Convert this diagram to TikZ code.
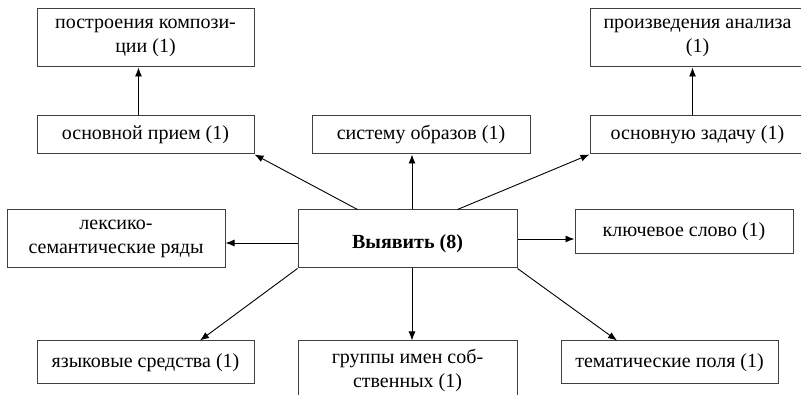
\documentclass[tikz,border=0pt]{standalone}
\usepackage{fontspec}
\setmainfont{Liberation Serif}
\usepackage{tikz}
\usetikzlibrary{arrows.meta, calc}
\tikzstyle{arrow} = [line width=0.9pt, ->, >={Latex[length=9pt, width=7pt]}]
\tikzstyle{process} = [rectangle, minimum width=217pt, minimum height=38pt, inner sep=0pt, text centered, align=center, draw=black!75, line width=1pt]

\begin{document}
\begin{tikzpicture}[x=1pt, y=-1pt, font=\rmfamily\fontsize{20}{24}\selectfont]
    \useasboundingbox (0,0) rectangle (801,395);
    \clip (0,0) rectangle (801,395);

    % Verkhnii riad
    \node (comp) [process, minimum height=58pt] at (145.5,38) {построения компози-\\ции (1)};
    \node (analiz) [process, minimum width=215pt, minimum height=58pt] at (697.5,38) {произведения анализа\\(1)};

    % Vtoroi riad
    \node (prim) [process] at (145.5,135) {основной прием (1)};
    \node (obraz) [process, minimum width=218pt] at (421,135) {систему образов (1)};
    \node (zadacha) [process, minimum width=215pt] at (697.5,135) {основную задачу (1)};

    % Tsentr
    \node (leks) [process, minimum width=218pt, minimum height=58pt] at (116,239) {лексико-\\семантические ряды};
    \node (vyy) [process, minimum width=219pt, minimum height=58pt, font=\rmfamily\bfseries\fontsize{20}{24}\selectfont] at (407.5,239) {\mbox{}\\Выявить (8)};
    \node (klyuch) [process, minimum width=218pt, minimum height=44pt] at (684,232) {ключевое слово (1)};

    % Nizhnii riad
    \node (yazyk) [process, minimum height=43pt] at (145.5,362.5) {языковые средства (1)};
    \node (gruppy) [process, minimum width=219pt, minimum height=58pt] at (407.5,370) {группы имен соб-\\ственных (1)};
    \node (temat) [process, minimum height=43pt] at (669.5,362.5) {тематические поля (1)};

    % Strelki
    \draw [arrow] ($(prim.north)+(-7,0)$) -- ($(comp.south)+(-7,0)$);
    \draw [arrow] ($(zadacha.north)+(-5,0)$) -- ($(analiz.south)+(-5,0)$);
    \draw [arrow] ($(vyy.north)+(-50,0)$) -- (prim.south east);
    \draw [arrow] ($(vyy.north)+(4.5,0)$) coordinate (up) -- (up |- obraz.south);
    \draw [arrow] ($(vyy.north)+(50,0)$) -- (zadacha.south west);
    \draw [arrow] ($(vyy.west)+(0,4)$) coordinate (lt) -- (lt -| leks.east);
    \draw [arrow] (vyy.east) -- (vyy.east -| klyuch.west);
    \draw [arrow] (vyy.south west) -- ($(yazyk.north)+(54.5,0)$);
    \draw [arrow] ($(vyy.south)+(4.5,0)$) coordinate (dn) -- (dn |- gruppy.north);
    \draw [arrow] (vyy.south east) -- ($(temat.north)+(-52.5,0)$);
\end{tikzpicture}
\end{document}
